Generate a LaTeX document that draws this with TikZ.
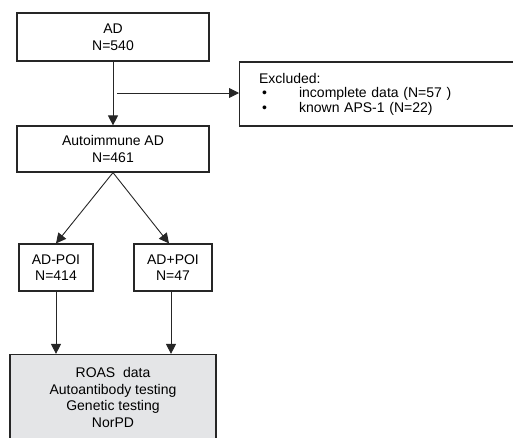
\documentclass[tikz,border=0pt]{standalone}
\usepackage{fontspec}
\setmainfont{Liberation Sans}
\usetikzlibrary{arrows.meta,positioning}

\definecolor{linegray}{HTML}{262626}
\definecolor{datagray}{HTML}{E4E5E7}

\tikzset{
	flowbox/.style={draw=linegray, line width=1.2pt, align=center, inner sep=0pt,
		font=\fontsize{14}{16.5}\selectfont},
	exclbox/.style={draw=linegray, line width=1.2pt, align=left, inner sep=0pt,
		font=\fontsize{14}{14.5}\selectfont},
	databox/.style={flowbox, fill=datagray},
	flowarrow/.style={draw=linegray, line width=0.9pt, -{Triangle[width=10pt,length=10pt]}}
}

\begin{document}
\begin{tikzpicture}[x=1pt,y=-1pt]
	\useasboundingbox (0,0) rectangle (513,437);

	\node[flowbox, minimum width=192pt, minimum height=48pt] (ad) at (113,37) {AD\\N=540};
	\node[flowbox, minimum width=192pt, minimum height=46pt] (auto) at (113,149) {Autoimmune AD\\N=461};
	\node[exclbox, anchor=west, minimum width=290pt, minimum height=64pt, text width=277pt] (excl) at (239,94)
		{\hspace*{13pt}Excluded:\\
		 \hspace*{16pt}\makebox[37pt][l]{\textbullet}incomplete data (N=57 )\\
		 \hspace*{16pt}\makebox[37pt][l]{\textbullet}known APS-1 (N=22)};

	\node[flowbox, minimum width=74pt, minimum height=47pt] (poiA) at (56,267.5) {AD-POI\\N=414};
	\node[flowbox, minimum width=78pt, minimum height=47pt] (poiB) at (173,267.5) {AD+POI\\N=47};

	\node[databox, minimum width=206pt, minimum height=86pt] (data) at (113,397.5)
		{ROAS\ \ data\\Autoantibody testing\\Genetic testing\\NorPD};

	\coordinate (split) at (117,93);

	\draw[flowarrow] (ad) -- (auto);
	\draw[flowarrow] (split) -- (split -| excl.west);
	\draw[flowarrow] (auto.south) -- (poiA.north);
	\draw[flowarrow] (auto.south) -- ([xshift=-4pt]poiB.north);
	\draw[flowarrow] (poiA.south) -- (poiA.south |- data.north);
	\draw[flowarrow] ([xshift=-2pt]poiB.south) -- ([xshift=-2pt]poiB.south |- data.north);
\end{tikzpicture}
\end{document}
